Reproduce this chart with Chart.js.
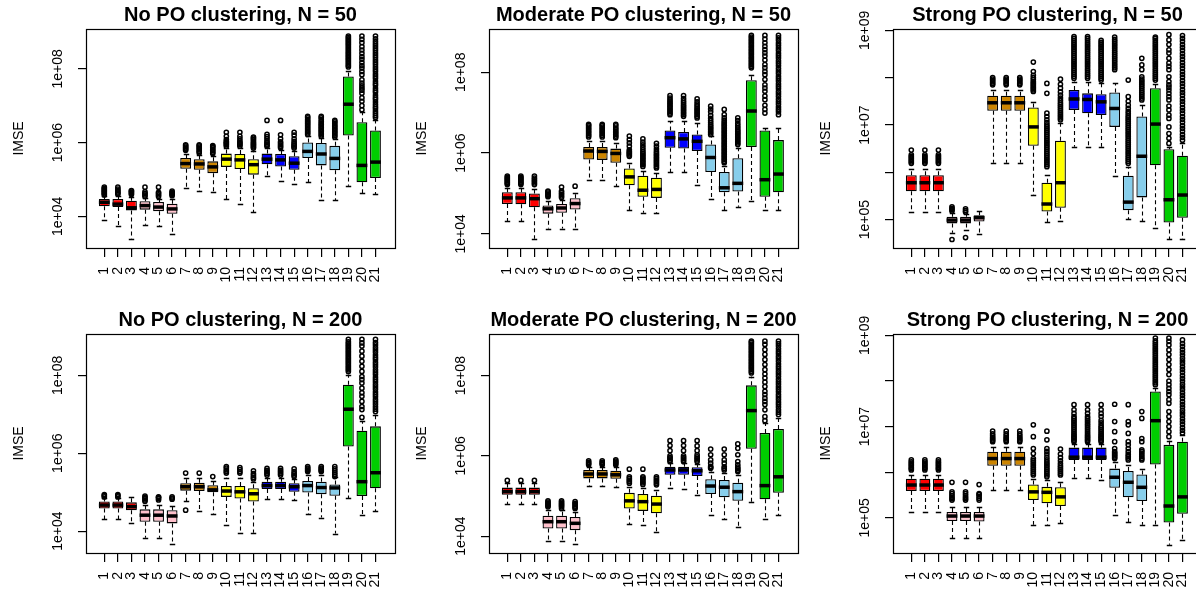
<!DOCTYPE html>
<html>
<head>
<meta charset="utf-8">
<script src="https://cdn.jsdelivr.net/npm/chart.js@4.4.1/dist/chart.umd.min.js"></script>
<style>
html,body{margin:0;padding:0;background:#fff;}
body{width:1196px;height:591px;overflow:hidden;position:relative;}
canvas{position:absolute;}
</style>
</head>
<body>
<script>
// ---------------- DATA (values are log10(IMSE)) ----------------
const categories = [1,2,3,4,5,6,7,8,9,10,11,12,13,14,15,16,17,18,19,20,21];
const boxColors = ['#FF0000','#FF0000','#FF0000','#FFC0CB','#FFC0CB','#FFC0CB','#CD8500','#CD8500','#CD8500',
  '#FFFF00','#FFFF00','#FFFF00','#0000FF','#0000FF','#0000FF','#87CEEB','#87CEEB','#87CEEB','#00CD00','#00CD00','#00CD00'];
const titles = ['No PO clustering, N = 50','Moderate PO clustering, N = 50','Strong PO clustering, N = 50',
  'No PO clustering, N = 200','Moderate PO clustering, N = 200','Strong PO clustering, N = 200'];
const yLabel = 'IMSE';
const ticksA = [1e4, 1e6, 1e8];
const tickLabelsA = ['1e+04','1e+06','1e+08'];
const ticksB = [1e5, 1e6, 1e7, 1e8, 1e9];
const tickLabelsB = ['1e+05','','1e+07','','1e+09'];

// Panel 1: No PO clustering, N = 50
const p1Range = [3.14, 9.08];
const p1Lo  = [3.89,3.75,3.39,3.77,3.73,3.53, 4.77,4.68,4.66, 4.47,4.33,4.11, 5.08,4.97,4.88, 4.92,4.43,4.43, 4.83,4.63,4.60];
const p1Q1  = [4.27,4.25,4.16,4.18,4.14,4.07, 5.29,5.26,5.17, 5.34,5.28,5.13, 5.41,5.35,5.26, 5.58,5.38,5.25, 6.19,4.92,5.04];
const p1Med = [4.38,4.33,4.23,4.29,4.25,4.20, 5.43,5.42,5.34, 5.55,5.53,5.40, 5.55,5.53,5.44, 5.76,5.69,5.57, 7.04,5.38,5.47];
const p1Q3  = [4.47,4.47,4.42,4.41,4.39,4.34, 5.58,5.55,5.49, 5.70,5.69,5.55, 5.70,5.69,5.63, 6.00,5.99,5.91, 7.79,6.55,6.33];
const p1Hi  = [4.54,4.56,4.52,4.50,4.48,4.47, 5.70,5.67,5.63, 5.85,5.85,5.76, 5.85,5.81,5.76, 6.17,6.12,6.09, 7.93,6.82,6.60];
const p1Out = [
 [4.58,4.61,4.64,4.67,4.70,4.73,4.76,4.79],
 [4.60,4.63,4.66,4.70,4.74,4.79],
 [4.59,4.62,4.65,4.68,4.70],
 [4.54,4.58,4.62,4.66,4.79],
 [4.54,4.58,4.62,4.65,4.79],
 [4.56,4.59,4.62,4.65,4.68],
 [5.79,5.82,5.85,5.88,5.91,5.94],
 [5.72,5.76,5.80,5.84,5.88,5.91,5.94],
 [5.70,5.74,5.78,5.82,5.86,5.90,5.92],
 [5.90,5.94,5.97,6.00,6.03,6.08,6.17,6.28],
 [5.90,5.94,5.97,6.00,6.04,6.10,6.17,6.28],
 [5.85,5.88,5.91,5.94,5.97,6.00,6.04,6.08,6.12,6.15],
 [5.90,5.93,5.96,6.00,6.04,6.10,6.16,6.22,6.60],
 [5.86,5.90,5.94,5.98,6.02,6.10,6.21,6.60],
 [5.85,5.88,5.91,5.94,5.98,6.03,6.10,6.20,6.28],
 [6.22,6.26,6.30,6.34,6.38,6.42,6.46,6.50,6.54,6.58,6.62,6.67,6.71],
 [6.17,6.21,6.25,6.29,6.33,6.37,6.41,6.45,6.49,6.53,6.57,6.62,6.67,6.71],
 [6.15,6.19,6.23,6.27,6.31,6.35,6.39,6.43,6.47,6.52,6.56,6.60],
 [8.05,8.09,8.13,8.17,8.21,8.25,8.29,8.33,8.37,8.41,8.45,8.49,8.53,8.57,8.61,8.65,8.69,8.73,8.77,8.81,8.85,8.89],
 [6.89,7.00,7.12,7.21,7.34,7.42,7.48,7.54,7.61,7.70,7.84,7.93,8.02,8.09,8.17,8.26,8.33,8.42,8.51,8.60,8.71,8.80,8.89],
 [6.68,6.73,6.79,6.85,6.92,6.97,7.03,7.10,7.17,7.22,7.28,7.36,7.41,7.47,7.55,7.60,7.66,7.74,7.80,7.86,7.93,7.99,8.05,8.12,8.18,8.24,8.31,8.37,8.43,8.50,8.56,8.62,8.68,8.74,8.81,8.89]
];

// Panel 2: Moderate PO clustering, N = 50
const p2Range = [3.65, 9.07];
const p2Lo  = [4.31,4.31,3.88,4.13,4.13,4.12, 5.34,5.34,5.18, 4.59,4.52,4.52, 5.53,5.53,5.22, 4.87,4.58,4.67, 4.82,4.59,4.58];
const p2Q1  = [4.74,4.73,4.66,4.50,4.52,4.60, 5.84,5.83,5.76, 5.20,4.92,4.89, 6.13,6.11,6.05, 5.53,5.03,5.05, 6.15,4.92,5.03];
const p2Med = [4.89,4.89,4.87,4.62,4.64,4.75, 6.05,6.04,5.99, 5.41,5.08,5.10, 6.38,6.35,6.29, 5.89,5.14,5.25, 7.04,5.34,5.48];
const p2Q3  = [5.03,5.03,5.00,4.70,4.74,4.88, 6.15,6.15,6.11, 5.62,5.44,5.39, 6.56,6.52,6.46, 6.21,5.53,5.87, 7.80,6.56,6.32];
const p2Hi  = [5.14,5.14,5.11,4.81,4.83,5.01, 6.29,6.29,6.25, 5.76,5.55,5.51, 6.79,6.79,6.75, 6.42,5.67,6.13, 7.94,6.62,6.62];
const p2Out = [
 [5.22,5.25,5.28,5.31,5.34,5.37,5.40,5.43],
 [5.22,5.25,5.28,5.31,5.34,5.37,5.40,5.43],
 [5.22,5.26,5.30,5.34,5.38,5.43],
 [4.92,4.95,4.98,5.01,5.04,5.06],
 [4.90,4.94,4.98,5.02,5.06,5.16],
 [5.18],
 [6.40,6.44,6.48,6.52,6.56,6.60,6.64,6.68,6.71],
 [6.40,6.44,6.48,6.52,6.56,6.60,6.64,6.68,6.71],
 [6.38,6.42,6.46,6.50,6.54,6.58,6.62,6.67,6.71],
 [5.92,5.95,5.98,6.01,6.04,6.08,6.17,6.25,6.33,6.42],
 [5.67,5.71,5.75,5.79,5.83,5.87,5.91,5.95,5.99,6.03,6.08,6.14,6.20,6.27,6.35],
 [5.63,5.67,5.71,5.75,5.79,5.83,5.87,5.91,5.95,5.99,6.04,6.10,6.17,6.24],
 [6.95,6.99,7.03,7.07,7.11,7.15,7.19,7.23,7.27,7.31,7.36,7.42],
 [6.91,6.95,6.99,7.03,7.07,7.11,7.15,7.19,7.24,7.29,7.35,7.42],
 [6.87,6.91,6.95,6.99,7.03,7.07,7.11,7.16,7.21,7.27,7.34],
 [6.46,6.50,6.54,6.58,6.62,6.66,6.70,6.75,6.80,6.86,6.93,7.02,7.09,7.16],
 [5.76,5.80,5.84,5.88,5.92,5.96,6.00,6.04,6.08,6.12,6.16,6.20,6.24,6.28,6.32,6.36,6.40,6.44,6.48,6.52,6.56,6.60,6.64,6.68,6.72,6.76,6.81,6.87,6.95,7.08],
 [6.21,6.25,6.29,6.33,6.37,6.41,6.45,6.49,6.53,6.57,6.62,6.67,6.73,6.80,6.87],
 [8.11,8.15,8.19,8.23,8.27,8.31,8.35,8.39,8.43,8.47,8.51,8.55,8.59,8.63,8.67,8.71,8.75,8.79,8.83,8.87,8.91],
 [6.99,7.08,7.18,7.32,7.41,7.53,7.61,7.69,7.82,7.94,8.02,8.11,8.19,8.30,8.40,8.48,8.56,8.64,8.73,8.82,8.91],
 [6.95,7.02,7.08,7.14,7.21,7.27,7.33,7.40,7.46,7.52,7.59,7.65,7.71,7.78,7.84,7.90,7.97,8.03,8.09,8.16,8.22,8.28,8.35,8.41,8.47,8.54,8.60,8.66,8.72,8.79,8.85,8.91]
];

// Panel 3: Strong PO clustering, N = 50
const p3Range = [4.40, 9.03];
const p3Lo  = [5.16,5.16,5.16,4.72,4.77,4.70, 6.20,6.20,6.20, 5.52,4.95,4.97, 6.54,6.54,6.54, 5.92,5.01,4.97, 4.82,4.58,4.58];
const p3Q1  = [5.60,5.60,5.60,4.92,4.92,4.96, 7.30,7.30,7.30, 6.56,5.17,5.25, 7.32,7.25,7.21, 6.96,5.20,5.47, 6.15,4.94,5.04];
const p3Med = [5.78,5.78,5.78,4.99,4.99,5.04, 7.47,7.47,7.47, 6.96,5.33,5.78, 7.55,7.54,7.49, 7.35,5.37,6.34, 7.02,5.42,5.52];
const p3Q3  = [5.94,5.94,5.94,5.06,5.06,5.09, 7.62,7.62,7.62, 7.37,5.78,6.67, 7.74,7.67,7.65, 7.69,5.93,7.18, 7.78,6.49,6.35];
const p3Hi  = [6.08,6.08,6.08,5.13,5.12,5.18, 7.74,7.74,7.74, 7.49,5.94,7.04, 7.92,7.92,7.88, 7.88,6.12,7.42, 7.87,6.54,6.61];
const p3Out = [
 [6.19,6.22,6.25,6.28,6.31,6.34,6.37,6.47],
 [6.19,6.22,6.25,6.28,6.31,6.34,6.37,6.47],
 [6.19,6.22,6.25,6.28,6.31,6.34,6.37,6.47],
 [4.58,5.18,5.21,5.24,5.27],
 [4.62,5.16,5.19,5.23],
 [],
 [7.85,7.88,7.91,7.94,7.97,8.00],
 [7.85,7.88,7.91,7.94,7.97,8.00],
 [7.85,7.88,7.91,7.94,7.97,8.00],
 [7.71,7.74,7.77,7.80,7.83,7.86,7.89,7.92,7.96,8.00,8.05,8.13,8.33],
 [6.12,6.16,6.20,6.24,6.28,6.32,6.36,6.40,6.44,6.48,6.52,6.56,6.60,6.64,6.68,6.72,6.76,6.80,6.84,6.88,6.92,6.96,7.00,7.05,7.11,7.18,7.25,7.67,7.88],
 [7.11,7.15,7.19,7.23,7.27,7.31,7.35,7.39,7.43,7.47,7.52,7.57,7.63,7.70,7.78,7.86,7.97],
 [7.99,8.03,8.07,8.11,8.15,8.19,8.23,8.27,8.31,8.35,8.39,8.43,8.47,8.51,8.55,8.59,8.63,8.67,8.71,8.75,8.79,8.83,8.87],
 [7.99,8.03,8.07,8.11,8.15,8.19,8.23,8.27,8.31,8.35,8.39,8.43,8.47,8.51,8.55,8.59,8.63,8.67,8.71,8.75,8.79,8.83,8.87],
 [7.95,7.99,8.03,8.07,8.11,8.15,8.19,8.23,8.27,8.31,8.35,8.39,8.43,8.47,8.51,8.55,8.59,8.63,8.67,8.71,8.75,8.79],
 [8.17,8.21,8.25,8.29,8.33,8.37,8.41,8.45,8.49,8.53,8.57,8.61,8.65,8.69,8.73,8.77,8.81,8.86],
 [6.19,6.23,6.27,6.31,6.35,6.39,6.43,6.47,6.51,6.55,6.59,6.63,6.67,6.71,6.75,6.79,6.83,6.87,6.91,6.95,6.99,7.03,7.07,7.11,7.15,7.19,7.24,7.29,7.35,7.42,7.50,7.60,7.95],
 [7.53,7.57,7.61,7.65,7.69,7.73,7.77,7.81,7.85,7.89,7.93,7.97,8.02,8.17,8.27,8.41],
 [7.95,7.99,8.03,8.07,8.11,8.15,8.19,8.23,8.27,8.31,8.35,8.39,8.43,8.47,8.51,8.55,8.59,8.63,8.67,8.71,8.75,8.79,8.83,8.86],
 [6.61,6.72,6.82,6.96,7.14,7.21,7.32,7.40,7.53,7.60,7.67,7.74,7.80,7.85,7.92,8.02,8.17,8.24,8.31,8.41,8.52,8.59,8.70,8.80,8.91],
 [6.68,6.74,6.80,6.87,6.93,6.99,7.06,7.12,7.18,7.25,7.31,7.37,7.44,7.50,7.56,7.63,7.69,7.75,7.82,7.88,7.94,8.01,8.07,8.13,8.20,8.26,8.32,8.39,8.45,8.51,8.58,8.64,8.70,8.77,8.83,8.89]
];

// Panel 4: No PO clustering, N = 200
const p4Range = [3.44, 9.06];
const p4Lo  = [4.30,4.30,4.22,3.83,3.83,3.66, 4.77,4.52,4.45, 4.17,3.96,3.96, 4.82,4.82,4.79, 4.43,4.35,3.94, 4.84,4.41,4.52];
const p4Q1  = [4.58,4.58,4.54,4.24,4.24,4.20, 5.04,5.03,5.00, 4.88,4.84,4.76, 5.08,5.08,5.01, 4.99,4.95,4.91, 6.17,4.90,5.10];
const p4Med = [4.67,4.67,4.63,4.41,4.41,4.39, 5.14,5.14,5.06, 5.03,5.01,4.96, 5.17,5.17,5.14, 5.17,5.12,5.11, 7.13,5.27,5.50];
const p4Q3  = [4.76,4.76,4.74,4.56,4.56,4.54, 5.23,5.24,5.18, 5.16,5.16,5.10, 5.27,5.27,5.23, 5.29,5.27,5.20, 7.76,6.58,6.69];
const p4Hi  = [4.84,4.84,4.88,4.67,4.67,4.65, 5.36,5.36,5.29, 5.37,5.37,5.25, 5.37,5.37,5.34, 5.44,5.43,5.38, 8.02,6.82,6.99];
const p4Out = [
 [4.88,4.91,4.94],
 [4.88,4.91,4.94],
 [],
 [4.77,4.80,4.84,4.87,4.90],
 [4.80,4.84,4.87,4.88],
 [4.82,4.85,4.88],
 [4.54,5.49],
 [5.49],
 [5.40],
 [5.49,5.53,5.57,5.62,5.66],
 [5.49,5.53,5.58,5.63],
 [5.34,5.38,5.43,5.48,5.55],
 [5.44,5.48,5.52,5.56,5.61],
 [5.44,5.48,5.52,5.56,5.61],
 [5.40,5.44,5.48,5.53,5.60],
 [5.53,5.56,5.59,5.62,5.66],
 [5.53,5.56,5.59,5.62,5.66],
 [5.40,5.45,5.50,5.55,5.60,5.66],
 [8.10,8.14,8.18,8.22,8.26,8.30,8.34,8.38,8.42,8.46,8.50,8.54,8.58,8.62,8.66,8.70,8.74,8.78,8.82,8.86,8.92],
 [6.92,7.12,7.20,7.33,7.46,7.55,7.67,7.80,7.89,7.97,8.10,8.23,8.36,8.49,8.62,8.75,8.83,8.92],
 [7.07,7.13,7.19,7.26,7.32,7.38,7.45,7.51,7.57,7.64,7.70,7.76,7.83,7.89,7.95,8.02,8.08,8.14,8.21,8.27,8.33,8.40,8.46,8.52,8.59,8.65,8.71,8.78,8.84,8.92]
];

// Panel 5: Moderate PO clustering, N = 200
const p5Range = [3.58, 9.04];
const p5Lo  = [4.80,4.80,4.80,3.88,3.88,3.81, 5.25,5.25,5.23, 4.30,4.28,4.11, 5.19,5.18,5.03, 4.53,4.42,4.22, 4.84,4.42,4.53];
const p5Q1  = [5.03,5.03,5.03,4.19,4.19,4.15, 5.44,5.44,5.43, 4.69,4.63,4.57, 5.53,5.53,5.50, 5.05,4.97,4.88, 6.18,4.92,5.08];
const p5Med = [5.11,5.11,5.11,4.36,4.36,4.32, 5.55,5.55,5.53, 4.88,4.86,4.80, 5.65,5.65,5.63, 5.25,5.22,5.11, 7.13,5.26,5.48];
const p5Q3  = [5.21,5.21,5.21,4.51,4.51,4.48, 5.65,5.65,5.63, 5.08,5.05,5.01, 5.73,5.73,5.72, 5.42,5.40,5.33, 7.76,6.57,6.67];
const p5Hi  = [5.32,5.32,5.32,4.65,4.65,4.61, 5.73,5.73,5.72, 5.23,5.19,5.15, 5.82,5.82,5.80, 5.61,5.57,5.53, 7.98,6.82,6.94];
const p5Out = [
 [5.39],[5.39],[5.39],
 [4.73,4.76,4.79,4.82,4.85,4.88],
 [4.69,4.73,4.76,4.79,4.82,4.85,4.88],
 [4.69,4.72,4.75,4.79,4.82,4.86],
 [5.78,5.81,5.84,5.88],
 [5.78,5.81,5.84,5.88],
 [5.78,5.81,5.84,5.87,5.90],
 [5.32,5.36,5.40,5.44,5.48,5.67],
 [5.29,5.33,5.37,5.41,5.45,5.48,5.67],
 [5.28,5.32,5.36,5.40,5.44,5.48],
 [5.86,5.89,5.93,5.96,6.00,6.13,6.26,6.38],
 [5.86,5.89,5.93,5.96,6.00,6.13,6.26,6.38],
 [5.86,5.90,5.94,5.98,6.03,6.13,6.25,6.38],
 [5.69,5.71,5.74,5.82,5.90,6.03,6.17],
 [5.65,5.69,5.73,5.82,5.90,6.03,6.17],
 [5.61,5.64,5.68,5.72,5.78,5.86,6.03,6.19,6.30],
 [8.07,8.11,8.15,8.19,8.23,8.27,8.31,8.35,8.39,8.43,8.47,8.51,8.55,8.59,8.63,8.67,8.71,8.75,8.79,8.83,8.86],
 [6.88,6.98,7.15,7.28,7.36,7.44,7.53,7.61,7.73,7.84,7.94,8.04,8.15,8.28,8.40,8.53,8.65,8.78,8.86],
 [7.03,7.09,7.15,7.22,7.28,7.34,7.41,7.47,7.53,7.60,7.66,7.72,7.79,7.85,7.91,7.98,8.04,8.10,8.17,8.23,8.29,8.36,8.42,8.48,8.55,8.61,8.67,8.74,8.80,8.86]
];

// Panel 6: Strong PO clustering, N = 200
const p6Range = [4.23, 9.03];
const p6Lo  = [5.13,5.13,5.13,4.56,4.56,4.55, 5.61,5.61,5.61, 4.85,4.85,4.88, 5.88,5.88,5.84, 5.07,4.91,4.85, 4.84,4.41,4.51];
const p6Q1  = [5.59,5.59,5.59,4.93,4.93,4.92, 6.14,6.14,6.14, 5.39,5.32,5.26, 6.27,6.27,6.27, 5.66,5.45,5.37, 6.17,4.90,5.09];
const p6Med = [5.72,5.72,5.72,5.04,5.04,5.04, 6.30,6.30,6.30, 5.57,5.56,5.46, 6.33,6.33,6.33, 5.89,5.78,5.67, 7.13,5.26,5.46];
const p6Q3  = [5.86,5.86,5.86,5.13,5.13,5.13, 6.45,6.45,6.45, 5.73,5.68,5.67, 6.54,6.54,6.54, 6.08,6.03,5.95, 7.77,6.60,6.67];
const p6Hi  = [5.94,5.94,5.94,5.24,5.24,5.24, 6.56,6.56,6.56, 5.86,5.83,5.79, 6.63,6.63,6.63, 6.23,6.16,6.08, 7.84,6.69,6.82];
const p6Out = [
 [6.05,6.08,6.11,6.14,6.17,6.20,6.23,6.27],
 [6.05,6.08,6.11,6.14,6.17,6.20,6.23,6.27],
 [6.05,6.08,6.11,6.14,6.17,6.20,6.23,6.27],
 [5.39,5.42,5.45,5.49,5.53,5.57,5.78],
 [5.39,5.42,5.45,5.49,5.53,5.57,5.78],
 [5.39,5.43,5.47,5.51,5.53,5.73],
 [6.67,6.70,6.73,6.76,6.80,6.84,6.90],
 [6.67,6.70,6.73,6.76,6.80,6.84,6.90],
 [6.67,6.70,6.73,6.76,6.80,6.84,6.90],
 [5.94,5.98,6.02,6.06,6.10,6.14,6.18,6.22,6.26,6.30,6.41,6.52,6.78,7.04],
 [5.90,5.94,5.98,6.02,6.06,6.10,6.14,6.18,6.22,6.27,6.33,6.40,6.46,6.52,6.71,6.90],
 [5.94,5.98,6.02,6.06,6.10,6.14,6.19,6.25,6.32,6.40,6.51],
 [6.67,6.70,6.73,6.76,6.79,6.82,6.86,6.90,6.94,6.98,7.02,7.06,7.10,7.14,7.18,7.22,7.29,7.37,7.48],
 [6.67,6.70,6.73,6.76,6.79,6.82,6.86,6.90,6.94,6.98,7.02,7.06,7.10,7.14,7.18,7.22,7.29,7.37,7.48],
 [6.67,6.70,6.73,6.76,6.79,6.82,6.86,6.90,6.94,6.98,7.02,7.08,7.14,7.22,7.29,7.37,7.48],
 [6.30,6.33,6.36,6.39,6.42,6.45,6.52,6.67,6.89,7.11,7.49],
 [6.27,6.31,6.35,6.39,6.45,6.52,6.60,6.67,6.85,7.04,7.11,7.48],
 [6.27,6.30,6.34,6.38,6.42,6.46,6.49,6.67,6.74,7.18,7.33],
 [7.92,7.96,8.00,8.04,8.08,8.12,8.16,8.20,8.24,8.28,8.32,8.36,8.40,8.44,8.48,8.52,8.56,8.60,8.64,8.68,8.72,8.76,8.80,8.84,8.88,8.94],
 [6.78,6.89,7.00,7.11,7.22,7.33,7.51,7.59,7.70,7.77,7.84,7.92,8.00,8.14,8.25,8.36,8.47,8.58,8.68,8.79,8.87,8.94],
 [6.86,6.92,6.98,7.05,7.11,7.17,7.24,7.30,7.36,7.43,7.49,7.55,7.62,7.68,7.74,7.81,7.87,7.93,8.00,8.06,8.12,8.19,8.25,8.31,8.38,8.44,8.50,8.57,8.63,8.69,8.76,8.82,8.90]
];

// ---------------- CHART BUILDING ----------------
const FONT = "'Liberation Sans', Arial, Helvetica, sans-serif";
Chart.defaults.font.family = FONT;
Chart.defaults.color = '#000';
const P = e => Math.pow(10, e);

const panels = [
  {title: titles[0], lo: p1Lo, q1: p1Q1, med: p1Med, q3: p1Q3, hi: p1Hi, out: p1Out, range: p1Range, ticks: ticksA, labels: tickLabelsA},
  {title: titles[1], lo: p2Lo, q1: p2Q1, med: p2Med, q3: p2Q3, hi: p2Hi, out: p2Out, range: p2Range, ticks: ticksA, labels: tickLabelsA},
  {title: titles[2], lo: p3Lo, q1: p3Q1, med: p3Med, q3: p3Q3, hi: p3Hi, out: p3Out, range: p3Range, ticks: ticksB, labels: tickLabelsB},
  {title: titles[3], lo: p4Lo, q1: p4Q1, med: p4Med, q3: p4Q3, hi: p4Hi, out: p4Out, range: p4Range, ticks: ticksA, labels: tickLabelsA},
  {title: titles[4], lo: p5Lo, q1: p5Q1, med: p5Med, q3: p5Q3, hi: p5Hi, out: p5Out, range: p5Range, ticks: ticksA, labels: tickLabelsA},
  {title: titles[5], lo: p6Lo, q1: p6Q1, med: p6Med, q3: p6Q3, hi: p6Hi, out: p6Out, range: p6Range, ticks: ticksB, labels: tickLabelsB}
];

const CW = 403, CH = 305;
const lefts = [0, 403, 807], tops = [0, 305];

function boxPlugin(p) {
  return {
    id: 'rbox',
    beforeDatasetsDraw(chart) {
      const ctx = chart.ctx, xs = chart.scales.x, ys = chart.scales.y;
      const bars = chart.getDatasetMeta(0).data;
      ctx.save();
      ctx.strokeStyle = '#000';
      ctx.lineWidth = 1.1;
      categories.forEach((c, i) => {
        const px = Math.round(xs.getPixelForValue(c)) + 0.5;
        const h = bars[i].width / 4;
        const yLo = ys.getPixelForValue(P(p.lo[i])), yQ1 = ys.getPixelForValue(P(p.q1[i]));
        const yQ3 = ys.getPixelForValue(P(p.q3[i])), yHi = ys.getPixelForValue(P(p.hi[i]));
        ctx.setLineDash([4, 3]);
        ctx.beginPath();
        ctx.moveTo(px, yQ1); ctx.lineTo(px, yLo);
        ctx.moveTo(px, yQ3); ctx.lineTo(px, yHi);
        ctx.stroke();
        ctx.setLineDash([]);
        ctx.lineWidth = 1.3;
        ctx.beginPath();
        ctx.moveTo(px - h, Math.round(yLo) + 0.5); ctx.lineTo(px + h, Math.round(yLo) + 0.5);
        ctx.moveTo(px - h, Math.round(yHi) + 0.5); ctx.lineTo(px + h, Math.round(yHi) + 0.5);
        ctx.stroke();
        ctx.lineWidth = 1.1;
      });
      ctx.restore();
    },
    afterDatasetDraw(chart, args) {
      if (args.index !== 0) return;
      const ctx = chart.ctx, ys = chart.scales.y;
      const bars = chart.getDatasetMeta(0).data;
      ctx.save();
      ctx.strokeStyle = '#000';
      ctx.lineWidth = 3.5;
      ctx.lineCap = 'butt';
      categories.forEach((c, i) => {
        const b = bars[i];
        const y = ys.getPixelForValue(P(p.med[i]));
        ctx.beginPath();
        ctx.moveTo(b.x - b.width / 2, y);
        ctx.lineTo(b.x + b.width / 2, y);
        ctx.stroke();
      });
      ctx.restore();
    },
    afterDraw(chart) {
      const ctx = chart.ctx, a = chart.chartArea, ys = chart.scales.y;
      ctx.save();
      ctx.strokeStyle = '#000';
      ctx.lineWidth = 1.2;
      ctx.strokeRect(Math.round(a.left) + 0.5, Math.round(a.top) + 0.5,
                     Math.round(a.right - a.left), Math.round(a.bottom - a.top));
      ctx.fillStyle = '#000';
      ctx.font = '14px ' + FONT;
      ctx.textAlign = 'center';
      ctx.textBaseline = 'middle';
      p.ticks.forEach((v, k) => {
        const lab = p.labels[k];
        if (!lab) return;
        const y = ys.getPixelForValue(v);
        ctx.save();
        ctx.translate(58.5, y);
        ctx.rotate(-Math.PI / 2);
        ctx.fillText(lab, 0, 0);
        ctx.restore();
      });
      ctx.restore();
    }
  };
}

panels.forEach((p, idx) => {
  const cv = document.createElement('canvas');
  cv.width = CW; cv.height = CH;
  cv.style.width = CW + 'px'; cv.style.height = CH + 'px';
  cv.style.left = lefts[idx % 3] + 'px';
  cv.style.top = tops[Math.floor(idx / 3)] + 'px';
  document.body.appendChild(cv);

  const boxData = categories.map((c, i) => ({x: c, y: [P(p.q1[i]), P(p.q3[i])]}));
  const outData = [];
  p.out.forEach((arr, i) => arr.forEach(v => outData.push({x: categories[i], y: P(v)})));

  new Chart(cv, {
    type: 'bar',
    data: {
      datasets: [
        {type: 'bar', data: boxData, backgroundColor: boxColors, borderColor: '#000', borderWidth: 1.3,
         borderSkipped: false, barPercentage: 0.8, categoryPercentage: 1, order: 1},
        {type: 'scatter', data: outData, pointStyle: 'circle', pointRadius: 2.1, pointBorderWidth: 1.5,
         pointBorderColor: '#000', pointBackgroundColor: 'rgba(0,0,0,0)', order: 0}
      ]
    },
    options: {
      responsive: false, animation: false, events: [], devicePixelRatio: 1,
      layout: {padding: {left: 0, right: 8, top: 0, bottom: 0}},
      plugins: {
        legend: {display: false},
        tooltip: {enabled: false},
        title: {display: true, text: p.title, fullSize: false, color: '#000',
                font: {family: FONT, size: 20, weight: 'bold'}, padding: {top: 3, bottom: 2}}
      },
      scales: {
        x: {
          type: 'linear', min: -0.35, max: 22.44, offset: false, bounds: 'data',
          grid: {display: true, drawOnChartArea: false, drawTicks: true, tickLength: 9, color: '#000', offset: false, lineWidth: 1.2},
          border: {display: false},
          ticks: {autoSkip: false, minRotation: 90, maxRotation: 90, padding: 10, color: '#000',
                  font: {family: FONT, size: 14}, callback: v => String(v)},
          afterBuildTicks: s => { s.ticks = categories.map(v => ({value: v})); },
          afterFit: s => { s.height = 57; }
        },
        y: {
          type: 'logarithmic', min: P(p.range[0]), max: P(p.range[1]), bounds: 'data',
          grid: {display: true, drawOnChartArea: false, drawTicks: true, tickLength: 8, color: '#000', lineWidth: 1.2},
          border: {display: false},
          ticks: {display: false},
          title: {display: true, text: yLabel, color: '#000', font: {family: FONT, size: 14},
                  padding: {top: 10.6, bottom: 0}},
          afterBuildTicks: s => { s.ticks = p.ticks.map(v => ({value: v})); },
          afterFit: s => { s.width = 86; }
        }
      }
    },
    plugins: [boxPlugin(p)]
  });
});
</script>
</body>
</html>
